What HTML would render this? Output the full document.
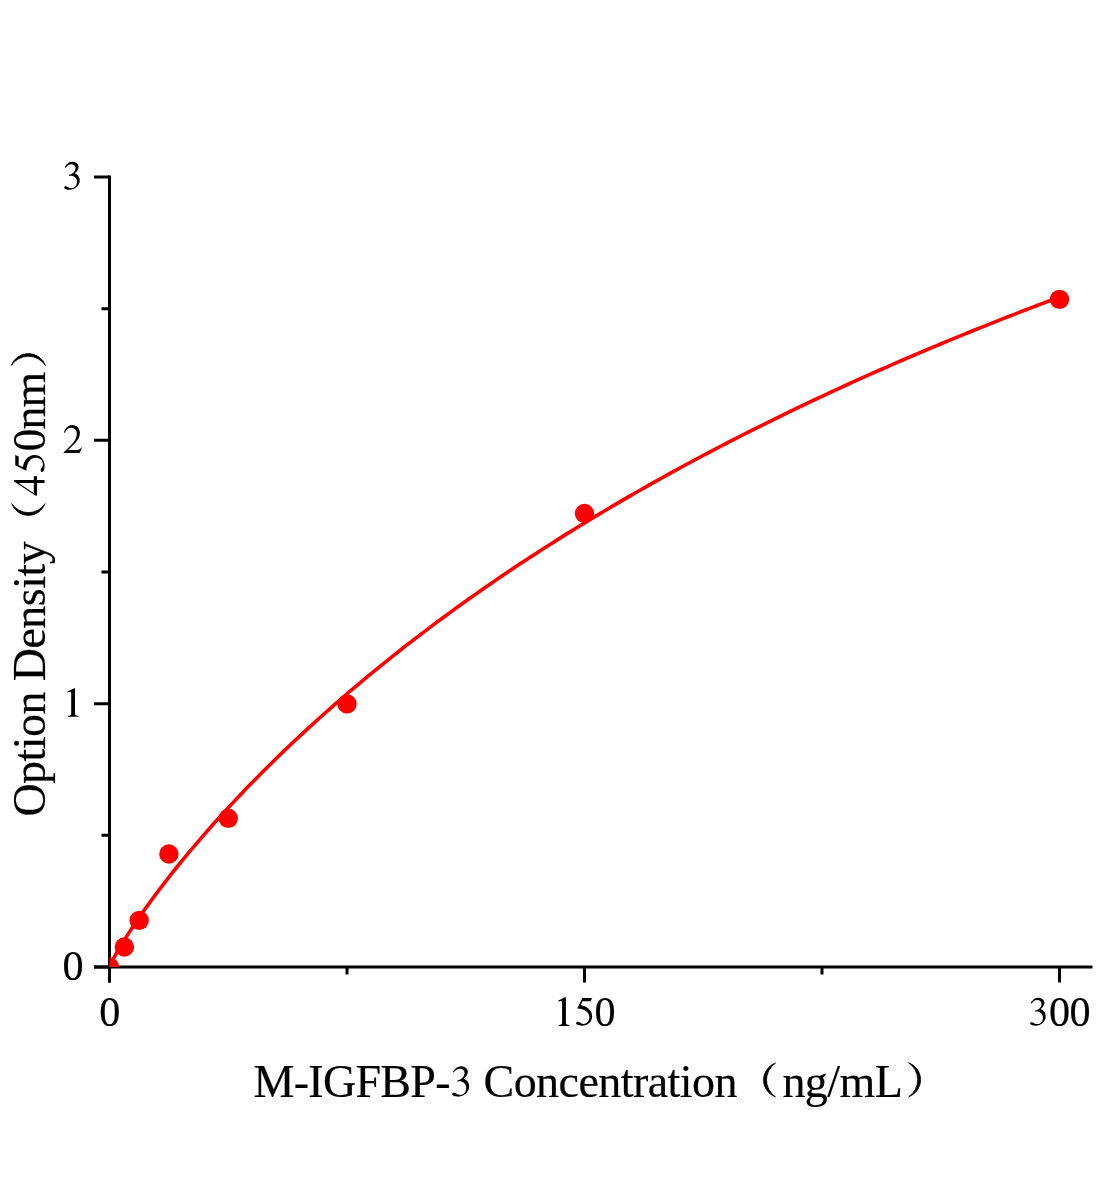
<!DOCTYPE html>
<html><head><meta charset="utf-8"><style>
html,body{margin:0;padding:0;background:#fff;}
body{width:1104px;height:1200px;overflow:hidden;}
svg{display:block;will-change:transform;}
text{font-family:"Liberation Serif",serif;fill:#000;stroke:#000;stroke-width:0.2px;}
</style></head><body>
<svg width="1104" height="1200" viewBox="0 0 1104 1200">
<defs><clipPath id="pa"><rect x="109.5" y="0" width="1104" height="967"/></clipPath></defs>
<g stroke="#000" stroke-width="3" fill="none">
<path d="M109.5,175.5 V982.5 M94,967 H1092.5"/>
<path d="M94,967.00 H109.5 M94,703.67 H109.5 M94,440.33 H109.5 M94,177.00 H109.5 M101.5,835.33 H109.5 M101.5,572.00 H109.5 M101.5,308.67 H109.5 M109.50,967 V982.5 M584.50,967 V982.5 M1059.50,967 V982.5 M347.00,967 V974.5 M822.00,967 V974.5"/>
</g>
<g clip-path="url(#pa)">
<path d="M109.50,967.14 L109.83,966.21 L110.17,965.41 L110.50,964.66 L110.83,963.93 L111.17,963.22 L111.50,962.53 L111.83,961.86 L112.17,961.19 L112.50,960.54 L112.83,959.89 L113.17,959.25 L113.50,958.61 L113.83,957.99 L114.17,957.36 L114.50,956.75 L114.83,956.13 L115.17,955.53 L115.50,954.92 L115.83,954.33 L115.83,954.33 L116.80,952.61 L117.77,950.92 L118.73,949.26 L119.70,947.62 L120.66,946.00 L121.63,944.40 L122.60,942.81 L123.56,941.24 L124.53,939.69 L125.49,938.15 L126.46,936.62 L127.43,935.10 L128.39,933.60 L129.36,932.11 L130.32,930.62 L131.29,929.15 L132.26,927.69 L133.22,926.23 L134.19,924.79 L135.16,923.35 L136.12,921.92 L137.09,920.50 L138.05,919.09 L139.02,917.69 L139.99,916.29 L140.95,914.90 L141.92,913.52 L142.88,912.14 L143.85,910.78 L144.82,909.41 L145.78,908.06 L146.75,906.71 L147.71,905.36 L148.68,904.02 L149.65,902.69 L150.61,901.37 L151.58,900.04 L152.55,898.73 L153.51,897.42 L154.48,896.11 L155.44,894.81 L156.41,893.52 L157.38,892.23 L158.34,890.94 L159.31,889.66 L160.27,888.39 L161.24,887.12 L162.21,885.85 L163.17,884.59 L164.14,883.33 L165.10,882.08 L166.07,880.83 L167.04,879.59 L168.00,878.35 L168.97,877.12 L169.94,875.88 L170.90,874.66 L171.87,873.43 L172.83,872.21 L172.83,872.21 L178.41,865.25 L183.99,858.41 L189.56,851.68 L195.14,845.06 L200.72,838.55 L206.29,832.13 L211.87,825.80 L217.45,819.57 L223.02,813.42 L228.60,807.35 L234.18,801.36 L239.75,795.45 L245.33,789.61 L250.90,783.84 L256.48,778.15 L262.06,772.51 L267.63,766.95 L273.21,761.45 L278.79,756.01 L284.36,750.62 L289.94,745.30 L295.52,740.04 L301.09,734.83 L306.67,729.67 L312.25,724.57 L317.82,719.51 L323.40,714.51 L328.98,709.56 L334.55,704.66 L340.13,699.80 L345.71,694.99 L351.28,690.23 L356.86,685.51 L362.44,680.83 L368.01,676.20 L373.59,671.61 L379.16,667.06 L384.74,662.55 L390.32,658.08 L395.89,653.65 L401.47,649.26 L407.05,644.90 L412.62,640.59 L418.20,636.31 L423.78,632.06 L429.35,627.85 L434.93,623.68 L440.51,619.54 L446.08,615.43 L451.66,611.35 L457.24,607.31 L462.81,603.30 L468.39,599.32 L473.97,595.38 L479.54,591.46 L485.12,587.58 L490.69,583.72 L496.27,579.89 L501.85,576.09 L507.42,572.32 L513.00,568.58 L518.58,564.87 L524.15,561.18 L529.73,557.52 L535.31,553.89 L540.88,550.28 L546.46,546.70 L552.04,543.15 L557.61,539.62 L563.19,536.12 L568.77,532.64 L574.34,529.18 L579.92,525.75 L585.50,522.34 L591.07,518.96 L596.65,515.59 L602.23,512.26 L607.80,508.94 L613.38,505.65 L618.95,502.37 L624.53,499.12 L630.11,495.90 L635.68,492.69 L641.26,489.50 L646.84,486.34 L652.41,483.19 L657.99,480.07 L663.57,476.96 L669.14,473.88 L674.72,470.81 L680.30,467.77 L685.87,464.74 L691.45,461.74 L697.03,458.75 L702.60,455.78 L708.18,452.83 L713.76,449.89 L719.33,446.98 L724.91,444.08 L730.49,441.20 L736.06,438.34 L741.64,435.49 L747.21,432.66 L752.79,429.85 L758.37,427.06 L763.94,424.28 L769.52,421.52 L775.10,418.77 L780.67,416.04 L786.25,413.33 L791.83,410.63 L797.40,407.95 L802.98,405.29 L808.56,402.63 L814.13,400.00 L819.71,397.38 L825.29,394.77 L830.86,392.18 L836.44,389.60 L842.02,387.04 L847.59,384.49 L853.17,381.96 L858.75,379.44 L864.32,376.93 L869.90,374.44 L875.47,371.96 L881.05,369.49 L886.63,367.04 L892.20,364.60 L897.78,362.18 L903.36,359.77 L908.93,357.37 L914.51,354.98 L920.09,352.61 L925.66,350.24 L931.24,347.89 L936.82,345.56 L942.39,343.23 L947.97,340.92 L953.55,338.62 L959.12,336.33 L964.70,334.06 L970.28,331.79 L975.85,329.54 L981.43,327.30 L987.01,325.07 L992.58,322.85 L998.16,320.64 L1003.73,318.44 L1009.31,316.26 L1014.89,314.08 L1020.46,311.92 L1026.04,309.77 L1031.62,307.63 L1037.19,305.49 L1042.77,303.37 L1048.35,301.26 L1053.92,299.16 L1059.50,297.07" stroke="#f00" stroke-width="3.6" fill="none" stroke-linejoin="round"/>
<g fill="#f00"><circle cx="109.50" cy="967.00" r="9.7"/><circle cx="124.35" cy="947.00" r="9.7"/><circle cx="139.20" cy="920.35" r="9.7"/><circle cx="168.88" cy="854.00" r="9.7"/><circle cx="228.25" cy="818.30" r="9.7"/><circle cx="347.00" cy="703.90" r="9.7"/><circle cx="584.50" cy="513.50" r="9.7"/><circle cx="1059.50" cy="299.35" r="9.7"/></g>
</g>
<text x="62.60" y="979.67" font-size="42.2" letter-spacing="0.000">0</text>
<text x="99.20" y="1025.50" font-size="42.2" letter-spacing="0.000">0</text>
<text x="594.60" y="1025.50" font-size="42.2" letter-spacing="0.000">0</text>
<text x="1048.90" y="1025.50" font-size="42.2" letter-spacing="-0.600">00</text>
<text x="253.55" y="1096.50" font-size="46" letter-spacing="-0.714">M-IGFBP-</text>
<text x="483.50" y="1096.50" font-size="46" letter-spacing="-0.546">Concentration</text>
<text x="782.40" y="1096.50" font-size="46" letter-spacing="-0.525">ng/mL</text>
<text transform="translate(44.50,816.60) rotate(-90)" font-size="46" letter-spacing="-0.550">Option Density</text>
<text transform="translate(44.50,451.55) rotate(-90)" font-size="46" letter-spacing="-0.975">0nm</text>
<g fill="#000" stroke="#000" stroke-width="0.25"><path transform="translate(64.20,189.67) scale(0.03058) translate(-125.0,-1095.0)" d="M148,345 C210,250 290,185 385,185 C500,185 595,255 595,355 C595,440 540,510 470,555 C580,600 635,690 635,790 C635,960 480,1100 310,1100 C210,1100 125,1070 125,1030 C125,1000 150,985 180,985 C225,985 270,1050 360,1050 C470,1050 545,960 545,840 C545,710 450,640 340,640 C315,640 295,645 280,648 L280,615 C400,590 495,500 495,390 C495,310 440,260 360,260 C270,260 210,320 165,385 Z"/>
<path transform="translate(63.60,453.00) scale(0.03623) translate(-375.0,-910.0)" d="M385,335 C430,220 510,140 610,140 C740,140 825,240 825,360 C825,470 770,560 680,650 L500,825 L760,825 C800,825 830,810 860,760 L880,760 L820,910 L375,910 L375,895 L590,680 C680,590 740,490 740,385 C740,280 680,215 580,215 C500,215 440,270 410,355 Z"/>
<path transform="translate(67.40,716.33) scale(0.03623) translate(-480.0,-867.0)" d="M480,180 L670,90 L690,90 L690,800 C690,835 710,845 780,850 L785,880 L495,880 L495,850 C565,845 585,835 585,800 L585,240 C585,205 575,190 550,190 C530,190 510,195 490,210 Z"/>
<path transform="translate(558.30,1025.50) scale(0.03623) translate(-480.0,-867.0)" d="M480,180 L670,90 L690,90 L690,800 C690,835 710,845 780,850 L785,880 L495,880 L495,850 C565,845 585,835 585,800 L585,240 C585,205 575,190 550,190 C530,190 510,195 490,210 Z"/>
<path transform="translate(576.10,1025.50) scale(0.02917) translate(-140.0,-1080.0)" d="M355,140 L685,140 L640,250 L355,250 L300,385 C520,420 690,560 690,760 C690,950 540,1085 340,1085 C230,1085 140,1050 140,1005 C140,975 170,955 205,955 C260,955 300,1030 380,1030 C510,1030 595,930 595,800 C595,610 420,515 180,495 Z"/>
<path transform="translate(1030.10,1025.50) scale(0.03058) translate(-125.0,-1095.0)" d="M148,345 C210,250 290,185 385,185 C500,185 595,255 595,355 C595,440 540,510 470,555 C580,600 635,690 635,790 C635,960 480,1100 310,1100 C210,1100 125,1070 125,1030 C125,1000 150,985 180,985 C225,985 270,1050 360,1050 C470,1050 545,960 545,840 C545,710 450,640 340,640 C315,640 295,645 280,648 L280,615 C400,590 495,500 495,390 C495,310 440,260 360,260 C270,260 210,320 165,385 Z"/>
<path transform="translate(452.20,1096.50) scale(0.03333) translate(-125.0,-1095.0)" d="M148,345 C210,250 290,185 385,185 C500,185 595,255 595,355 C595,440 540,510 470,555 C580,600 635,690 635,790 C635,960 480,1100 310,1100 C210,1100 125,1070 125,1030 C125,1000 150,985 180,985 C225,985 270,1050 360,1050 C470,1050 545,960 545,840 C545,710 450,640 340,640 C315,640 295,645 280,648 L280,615 C400,590 495,500 495,390 C495,310 440,260 360,260 C270,260 210,320 165,385 Z"/>
<path transform="translate(44.50,472.00) rotate(-90) scale(0.03111) translate(-140.0,-1080.0)" d="M355,140 L685,140 L640,250 L355,250 L300,385 C520,420 690,560 690,760 C690,950 540,1085 340,1085 C230,1085 140,1050 140,1005 C140,975 170,955 205,955 C260,955 300,1030 380,1030 C510,1030 595,930 595,800 C595,610 420,515 180,495 Z"/></g>
<g fill="#000"><path d="M775.50,1063.10 A17.90,17.90 0 0 0 775.50,1096.90 A20.37,20.37 0 0 1 775.50,1063.10Z M908.60,1062.70 A18.18,18.18 0 0 1 908.60,1096.90 A20.62,20.62 0 0 0 908.60,1062.70Z M11.70,503.60 A17.72,17.72 0 0 0 45.10,503.60 A19.99,19.99 0 0 1 11.70,503.60Z M11.30,365.40 A18.22,18.22 0 0 1 45.40,365.40 A20.52,20.52 0 0 0 11.30,365.40Z" stroke="#000" stroke-width="0.8" stroke-linejoin="round"/><path fill-rule="evenodd" d="M37.03,495.60 L37.03,483.03 L44.60,483.03 L44.60,480.05 L37.03,480.05 L37.03,476.16 L33.83,476.16 L33.83,480.05 L14.12,480.05 L14.12,481.60 L35.30,495.60Z M33.83,483.03 L33.83,493.20 L18.70,483.03Z"/></g>
</svg>
</body></html>
